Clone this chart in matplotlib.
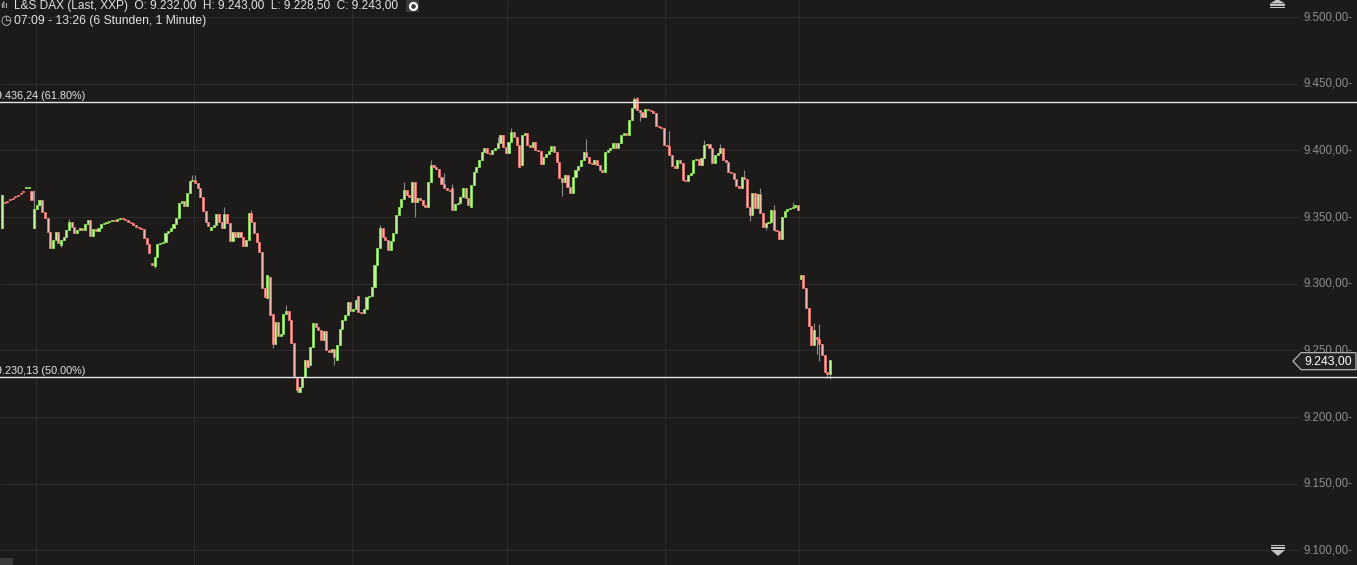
import numpy as np
import matplotlib
matplotlib.use("Agg")
import matplotlib.pyplot as plt
from matplotlib.patches import Polygon, Rectangle
from matplotlib.transforms import IdentityTransform

plt.rcParams['font.family'] = ['Liberation Sans', 'DejaVu Sans']

# one-minute closes (07:09 - 13:26)
closes = [
    9366.5, 9360.5, 9361.5, 9362.75, 9363.75, 9365.0, 9366.0, 9367.25, 9368.5, 9372.5,
    9372.5, 9362.75, 9356.0, 9359.0, 9362.75, 9353.75, 9349.25, 9338.75, 9326.75, 9332.75,
    9338.75, 9330.5, 9332.75, 9335.0, 9340.25, 9346.25, 9342.5, 9338.0, 9340.25, 9341.75,
    9340.25, 9344.75, 9347.75, 9335.75, 9341.0, 9339.5, 9341.75, 9344.75, 9345.5, 9346.25,
    9347.0, 9347.75, 9347.0, 9348.5, 9349.25, 9348.5, 9347.75, 9346.25, 9345.5, 9344.0,
    9342.5, 9341.75, 9341.0, 9334.25, 9329.75, 9323.0, 9314.0, 9320.0, 9329.75, 9330.5,
    9331.25, 9338.0, 9339.5, 9341.75, 9344.75, 9349.25, 9360.5, 9362.0, 9358.25, 9368.0,
    9377.0, 9377.75, 9375.5, 9371.75, 9365.0, 9354.5, 9346.25, 9343.25, 9342.5, 9344.0,
    9352.25, 9346.25, 9341.75, 9352.25, 9345.5, 9332.0, 9338.75, 9335.0, 9338.75, 9335.0,
    9328.25, 9332.75, 9353.0, 9346.25, 9338.0, 9331.25, 9323.75, 9296.75, 9290.0, 9306.5,
    9276.5, 9254.75, 9271.25, 9260.75, 9262.25, 9277.25, 9279.5, 9272.75, 9255.5, 9230.75,
    9220.25, 9222.5, 9230.0, 9242.75, 9237.5, 9252.5, 9270.5, 9267.5, 9265.25, 9257.75,
    9264.5, 9250.25, 9248.75, 9251.0, 9245.0, 9254.0, 9266.0, 9272.75, 9276.5, 9286.25,
    9279.5, 9281.0, 9287.75, 9278.75, 9278.0, 9281.0, 9290.0, 9290.75, 9297.5, 9314.0,
    9326.75, 9341.75, 9335.0, 9332.75, 9325.25, 9332.0, 9338.0, 9351.5, 9357.5, 9363.5,
    9370.25, 9366.5, 9365.0, 9376.25, 9361.25, 9364.25, 9362.75, 9359.0, 9357.5, 9376.25,
    9389.0, 9387.5, 9386.0, 9380.0, 9374.75, 9371.75, 9370.25, 9369.5, 9355.25, 9359.75,
    9360.5, 9365.0, 9371.75, 9364.25, 9359.0, 9374.0, 9383.75, 9387.5, 9392.75, 9398.75,
    9401.75, 9398.0, 9397.25, 9400.25, 9401.75, 9405.5, 9411.5, 9402.5, 9398.0, 9406.25,
    9413.75, 9410.0, 9404.0, 9387.5, 9411.5, 9413.0, 9404.0, 9402.5, 9406.25, 9400.25,
    9399.5, 9389.75, 9395.0, 9397.25, 9399.5, 9403.25, 9398.75, 9391.25, 9379.25, 9376.25,
    9381.5, 9372.5, 9368.0, 9380.0, 9385.25, 9388.25, 9392.75, 9398.75, 9395.0, 9390.5,
    9389.75, 9392.75, 9389.0, 9385.25, 9383.75, 9398.75, 9400.25, 9401.75, 9405.5, 9401.75,
    9405.5, 9411.5, 9413.0, 9411.5, 9422.75, 9431.75, 9438.5, 9430.25, 9428.75, 9425.0,
    9431.0, 9430.25, 9429.5, 9428.0, 9418.25, 9417.5, 9416.75, 9404.0, 9403.25, 9396.5,
    9388.25, 9386.75, 9392.75, 9390.5, 9377.75, 9377.0, 9381.5, 9383.0, 9392.75, 9393.5,
    9389.0, 9394.25, 9404.0, 9404.75, 9401.75, 9390.5, 9396.5, 9398.0, 9401.75, 9392.75,
    9391.25, 9383.75, 9383.0, 9378.5, 9373.25, 9371.75, 9380.0, 9378.5, 9357.5, 9351.5,
    9368.0, 9356.75, 9367.25, 9353.0, 9342.5, 9345.5, 9346.25, 9355.25, 9340.25, 9339.5,
    9333.5, 9350.0, 9354.5, 9356.0, 9356.75, 9357.5, 9359.0, 9355.25, 9306.5, 9296.75,
    9281.75, 9268.25, 9254.0, 9265.25, 9258.5, 9254.75, 9246.25, 9234.0, 9232.0, 9243.0,
]

# opens differ from the previous close only where the chart shows a gap
open_gaps = {0: 9341.75, 1: 9361.25, 2: 9362.25, 3: 9363.5, 4: 9364.5, 5: 9365.75,
             6: 9366.75, 7: 9368.0, 8: 9369.25, 9: 9371.75, 10: 9372.0, 11: 9369.5,
             12: 9341.75, 22: 9329.0, 56: 9315.5, 57: 9313.25, 78: 9340.25, 99: 9289.25,
             100: 9305.0, 101: 9277.25, 110: 9229.25, 111: 9218.75, 115: 9239.0,
             125: 9242.75, 133: 9290.75, 153: 9361.25, 168: 9371.75, 175: 9357.5,
             194: 9389.0, 237: 9439.25, 298: 9303.5, 304: 9260.0, 309: 9232.0}

# visible wicks
wick_highs = {12: 9370.25, 25: 9348.5, 71: 9381.5, 72: 9381.5, 83: 9357.5, 93: 9355.25,
              106: 9284.0, 141: 9344.0, 150: 9376.0, 160: 9392.75, 165: 9383.0,
              168: 9375.0, 185: 9410.0, 190: 9416.75, 218: 9408.5, 236: 9440.0,
              237: 9440.0, 249: 9414.5, 262: 9408.0, 268: 9404.75, 277: 9385.0,
              283: 9372.0, 288: 9359.0, 295: 9361.0, 303: 9270.5, 305: 9270.0}
wick_lows = {22: 9327.5, 57: 9311.75, 101: 9251.75, 110: 9218.75, 124: 9239.0,
             154: 9350.0, 209: 9365.75, 238: 9422.0, 279: 9347.0, 285: 9340.0,
             304: 9247.0, 305: 9242.0, 308: 9229.0, 309: 9228.5}

fib_levels = [9436.24, 9230.13]
fib_labels = ["61.80%", "50.00%"]
price_ticks = [9100, 9150, 9200, 9250, 9300, 9350, 9400, 9450, 9500]
hour_marks = [12.5, 71.5, 130.5, 188.5, 247.5, 297.5]  # 08:00 ... 13:00

title = "L&S DAX (Last, XXP)"
period = "07:09 - 13:26 (6 Stunden, 1 Minute)"


def de(v):
    s = f"{v:,.2f}"
    return s.replace(",", "X").replace(".", ",").replace("X", ".")


closes = np.array(closes)
n = len(closes)
opens = np.r_[closes[0], closes[:-1]]
for k, v in open_gaps.items():
    opens[k] = v
highs = np.maximum(opens, closes)
lows = np.minimum(opens, closes)
for k, v in wick_highs.items():
    highs[k] = max(highs[k], v)
for k, v in wick_lows.items():
    lows[k] = min(lows[k], v)

bg = '#1c1b1a'
grid = '#2c2b2a'
up_face, up_edge = '#bff29a', '#88de56'
dn_face, dn_edge = '#f8b6b2', '#e6706d'

W, H = 1357, 565
fig = plt.figure(figsize=(W / 100, H / 100), dpi=100)
fig.patch.set_facecolor(bg)
ax = fig.add_axes([0, 0, 1, 1])
ax.set_facecolor(bg)
ax.axis('off')

step = 2.68
ax.set_xlim(-2 / step, (W - 2) / step)
ax.set_ylim(9089.0, 9512.75)

x = np.arange(n)
x_right = (1298 - 2) / step
ax.hlines(price_ticks, -2 / step, x_right, color=grid, lw=0.8, zorder=0)
ax.vlines(hour_marks, 9089.0, 9512.75, color=grid, lw=0.8, zorder=0)

ax.vlines(x, lows, highs, color='#8a8a8a', lw=0.8, zorder=1)
up = closes >= opens
body_lo = np.minimum(opens, closes)
body_h = np.maximum(np.abs(closes - opens), 0.4)
ax.bar(x[up], body_h[up], bottom=body_lo[up], width=0.78,
       color=up_face, edgecolor=up_edge, lw=0.6, zorder=2)
ax.bar(x[~up], body_h[~up], bottom=body_lo[~up], width=0.78,
       color=dn_face, edgecolor=dn_edge, lw=0.6, zorder=2)

for lvl, lab in zip(fib_levels, fib_labels):
    ax.axhline(lvl, color='#e6e6e6', lw=1.0, zorder=3)
    ax.annotate(f"{de(lvl)} ({lab})", xy=(0, lvl), xycoords=('axes fraction', 'data'),
                xytext=(-4, 1), textcoords='offset pixels', ha='left', va='bottom',
                fontsize=7.8, color='#e6e6e6', zorder=4)

for p in price_ticks:
    ax.annotate(f"{de(p)}-", xy=(1, p), xycoords=('axes fraction', 'data'),
                xytext=(-5, 0), textcoords='offset pixels', ha='right', va='center',
                fontsize=8.3, color='#8e8e8e')

# last price tag
fig.canvas.draw()
yc = ax.transData.transform((0, closes[-1]))[1] - 1.5
ident = IdentityTransform()
tag = Polygon([(1293, yc), (1301, yc + 8.5), (1356, yc + 8.5), (1356, yc - 8.5),
               (1301, yc - 8.5)], closed=True, transform=ident, clip_on=False,
              facecolor='#232322', edgecolor='#b5b5b5', lw=0.9, zorder=5)
ax.add_artist(tag)
ax.annotate(de(closes[-1]), xy=(1, closes[-1]), xycoords=('axes fraction', 'data'),
            xytext=(-5, -1.5), textcoords='offset pixels', ha='right', va='center',
            fontsize=8.8, color='#ffffff', zorder=6)

# header
hdr = (f"{title}  O: {de(opens[-1])}  H: {de(highs[-1])}  "
       f"L: {de(lows[-1])}  C: {de(closes[-1])}")
fig.text(14 / W, 1 - 6 / H, hdr, fontsize=8.6, color='#e2e2e2', va='center', ha='left')
fig.text(14 / W, 1 - 21 / H, period, fontsize=8.7, color='#e2e2e2', va='center', ha='left')
fig.text(0.5 / W, 1 - 6 / H, "ılı", fontsize=6.5, color='#cfcfcf', va='center', ha='left',
         family=['DejaVu Sans'])
fig.text(0 / W, 1 - 21 / H, "◷", fontsize=9, color='#cfcfcf', va='center', ha='left',
         family=['DejaVu Sans'])

fig.add_artist(Rectangle((406, H - 12), 13, 12, transform=ident, facecolor='#3b3b3b',
                         edgecolor='none'))
fig.add_artist(plt.Line2D([412.5], [H - 6], transform=ident, marker='o', ms=5,
                          mfc='#3b3b3b', mec='#ffffff', mew=1.6))

# scroll icons on the price scale
ico = '#c4c4c4'
fig.add_artist(Polygon([(1270, H - 3.5), (1277.5, H + 1), (1285, H - 3.5)], closed=True,
                       transform=ident, facecolor=ico, edgecolor='none'))
for yy in (H - 5.5, H - 8):
    fig.add_artist(Rectangle((1270, yy), 15, 1.4, transform=ident, facecolor=ico,
                             edgecolor='none'))
for yy in (H - 546, H - 548.5):
    fig.add_artist(Rectangle((1271, yy), 14, 1.4, transform=ident, facecolor=ico,
                             edgecolor='none'))
fig.add_artist(Polygon([(1271, H - 550), (1285, H - 550), (1278, H - 556)], closed=True,
                       transform=ident, facecolor=ico, edgecolor='none'))
fig.add_artist(Rectangle((0, 0), 13, 7, transform=ident, facecolor='#3a3a3a',
                         edgecolor='none'))

fig.savefig('out.png', dpi=100, facecolor=bg)
